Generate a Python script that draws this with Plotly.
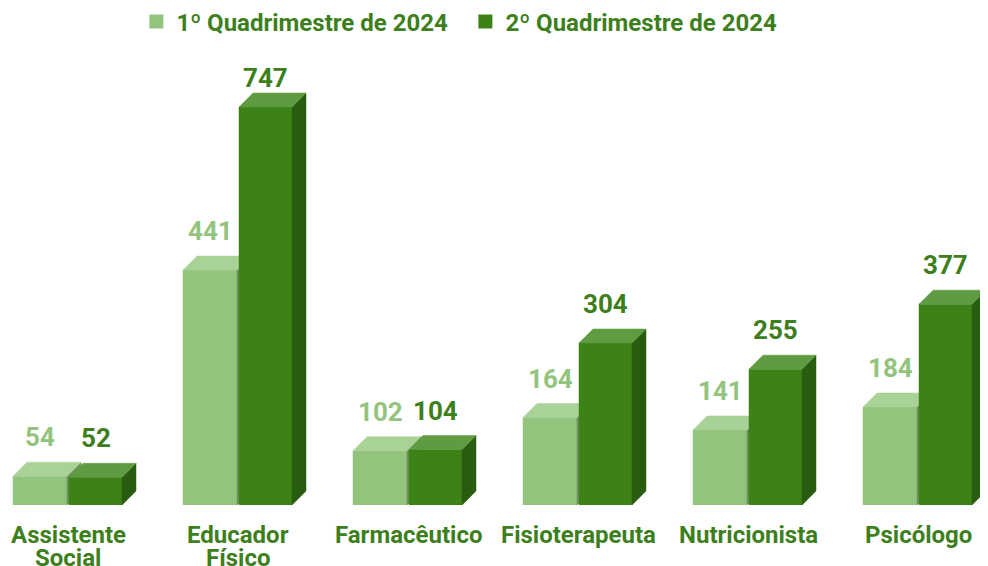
import plotly.graph_objects as go

categories = ["Assistente<br>Social", "Educador<br>Físico", "Farmacêutico",
              "Fisioterapeuta", "Nutricionista", "Psicólogo"]
q1_2024 = [54, 441, 102, 164, 141, 184]
q2_2024 = [52, 747, 104, 304, 255, 377]
series_names = ["1º Quadrimestre de 2024", "2º Quadrimestre de 2024"]

# colours: front, top, side, label
light = dict(front='#93c47d', top='#a9d296', side='#6d8f5e', label='#93c47d')
dark = dict(front='#3d8217', top='#5e9b41', side='#285c10', label='#3d7f1c')
text_green = '#3d7f1c'

# pixel geometry (page body has an 8px margin, so the figure is 8px smaller)
W, H = 980, 558
MT, MB = 52, 61
PX_X = 170.0            # px per category
X0_PX = 60.0            # px position of first category
K = 0.5328              # px per value unit
DEPTH = 14.0            # 3d depth in px
dx = DEPTH / PX_X
dy = DEPTH / K


def faces(values, left_px, right_px):
    front, top, side = ([], [], [])
    for i, v in enumerate(values):
        a = i + left_px / PX_X
        b = i + right_px / PX_X
        front += [(a, 0), (b, 0), (b, v), (a, v), (a, 0), (None, None)]
        top += [(a, v), (b, v), (b + dx, v + dy), (a + dx, v + dy), (a, v), (None, None)]
        side += [(b, 0), (b + dx, dy), (b + dx, v + dy), (b, v), (b, 0), (None, None)]
    return front, top, side


def poly(points, color):
    return go.Scatter(
        x=[p[0] for p in points], y=[p[1] for p in points],
        mode='lines', fill='toself', fillcolor=color,
        line=dict(color=color, width=0.5),
        hoverinfo='skip', showlegend=False
    )


fig = go.Figure()

lf, lt, ls = faces(q1_2024, -55, -1)
df_, dt, ds = faces(q2_2024, 1, 54)

fig.add_trace(poly(lf, light['front']))
fig.add_trace(poly(ls, light['side']))
fig.add_trace(poly(lt, light['top']))
fig.add_trace(poly(df_, dark['front']))
fig.add_trace(poly(ds, dark['side']))
fig.add_trace(poly(dt, dark['top']))

# legend entries
for name, c in zip(series_names, [light, dark]):
    fig.add_trace(go.Scatter(
        x=[None], y=[None], mode='markers', name=name,
        marker=dict(symbol='square', size=14, color=c['front'])
    ))

# value labels
max_label = 427 / K
for values, c, off in [(q1_2024, light, -28), (q2_2024, dark, 27.5)]:
    for i, v in enumerate(values):
        fig.add_annotation(
            x=i + off / PX_X, y=min(v + 39 / K, max_label),
            text=str(v), showarrow=False, yanchor='middle',
            font=dict(family='Roboto', size=26, color=c['label'], weight='bold')
        )

# category labels
for i, cat in enumerate(categories):
    for j, line in enumerate(cat.split('<br>')):
        fig.add_annotation(
            x=i, y=0, yshift=-30 - 23 * j, text=line, showarrow=False,
            yanchor='middle',
            font=dict(family='Roboto', size=24, color=text_green, weight='bold')
        )

plot_h = H - MT - MB
fig.update_layout(
    width=W, height=H,
    margin=dict(l=0, r=0, t=MT, b=MB),
    plot_bgcolor='white', paper_bgcolor='white',
    xaxis=dict(visible=False, range=[-X0_PX / PX_X, (W - X0_PX) / PX_X], fixedrange=True),
    yaxis=dict(visible=False, range=[0, plot_h / K], fixedrange=True),
    legend=dict(orientation='h', x=0.131, xanchor='left', y=1 - 14 / H,
                yref='container', yanchor='middle',
                entrywidth=284, entrywidthmode='pixels',
                font=dict(family='Roboto', size=24, color=text_green, weight='bold')),
    showlegend=True
)

fig.write_html("out.html")
